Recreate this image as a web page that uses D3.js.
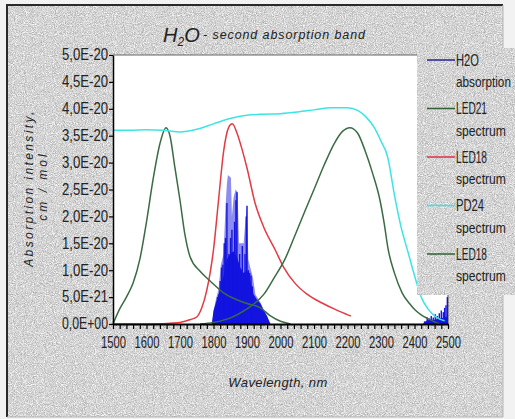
<!DOCTYPE html>
<html>
<head>
<meta charset="utf-8">
<script src="https://cdn.jsdelivr.net/npm/d3@7"></script>
<style>
  html, body { margin: 0; padding: 0; background: #f2f2f2; }
  svg { display: block; }
  .narrow { font-family: "Liberation Sans Narrow", "Arial Narrow", "Liberation Sans", Arial, sans-serif; }
  .sans { font-family: "Liberation Sans", Arial, sans-serif; }
</style>
</head>
<body>
<script>
// ---- data (absorption / spectral intensity in units of 1e-20) ----
const xTickValues = [1500, 1600, 1700, 1800, 1900, 2000, 2100, 2200, 2300, 2400, 2500];
const yTickValues = [0, 0.5, 1, 1.5, 2, 2.5, 3, 3.5, 4, 4.5, 5];
const yTickLabels = ["0,0E+00", "5,0E-21", "1,0E-20", "1,5E-20", "2,0E-20", "2,5E-20",
                     "3,0E-20", "3,5E-20", "4,0E-20", "4,5E-20", "5,0E-20"];

const legendNames = ["H2O", "LED21", "LED18", "PD24", "LED18"];
const legendSub   = ["absorption", "spectrum", "spectrum", "spectrum", "spectrum"];

// PD24 photodiode spectrum
const pd24Wl  = [1500, 1550, 1600, 1650, 1700, 1750, 1800, 1850, 1900, 1950, 2000, 2050, 2100, 2150, 2200,
                 2230, 2255, 2280, 2300, 2320, 2340, 2360, 2380, 2400, 2420, 2440, 2460, 2475, 2490];
const pd24Val = [3.60, 3.60, 3.61, 3.60, 3.57, 3.62, 3.72, 3.82, 3.88, 3.90, 3.91, 3.94, 3.98, 4.02, 4.02,
                 3.97, 3.85, 3.65, 3.40, 3.10, 2.40, 1.80, 1.35, 0.90, 0.50, 0.28, 0.15, 0.09, 0.06];

// LED (1.65 um) spectrum
const led16Wl  = [1500, 1520, 1540, 1560, 1580, 1600, 1620, 1640, 1658, 1670, 1685, 1700, 1715, 1730,
                  1760, 1790, 1830, 1870, 1900, 1940, 1970, 2000, 2030];
const led16Val = [0.00, 0.28, 0.50, 0.76, 1.20, 1.90, 2.70, 3.35, 3.65, 3.50, 2.90, 2.30, 1.65, 1.25,
                  0.98, 0.80, 0.58, 0.45, 0.38, 0.30, 0.15, 0.05, 0.00];

// LED21 spectrum
const led21Wl  = [1760, 1800, 1840, 1870, 1900, 1924, 1950, 1980, 2013, 2040, 2073, 2100, 2130, 2160,
                  2185, 2207, 2230, 2252, 2275, 2297, 2310, 2321, 2340, 2363, 2385, 2402, 2420, 2440, 2460, 2475];
const led21Val = [0.00, 0.03, 0.09, 0.17, 0.28, 0.39, 0.55, 0.85, 1.20, 1.60, 2.10, 2.50, 2.95, 3.35,
                  3.58, 3.65, 3.55, 3.23, 2.80, 2.30, 1.85, 1.40, 0.95, 0.58, 0.38, 0.26, 0.17, 0.10, 0.04, 0.00];

// LED18 spectrum
const led18Wl  = [1500, 1600, 1700, 1730, 1750, 1765, 1780, 1790, 1800, 1815, 1830, 1845, 1856, 1870,
                  1885, 1900, 1924, 1950, 1984, 2010, 2043, 2080, 2124, 2160, 2201, 2210];
const led18Val = [0.00, 0.00, 0.03, 0.08, 0.13, 0.30, 0.63, 0.95, 1.38, 2.30, 3.20, 3.65, 3.72, 3.55,
                  3.25, 2.90, 2.25, 1.80, 1.38, 1.05, 0.76, 0.55, 0.39, 0.28, 0.17, 0.15];

// H2O absorption: upper envelope of the line cluster
const h2oEnvWl  = [1795, 1805, 1815, 1822, 1830, 1836, 1840, 1843, 1852, 1855, 1860, 1866, 1872, 1876,
                   1890, 1895, 1900, 1904, 1912, 1918, 1925, 1940, 1955, 1968];
const h2oEnvVal = [0.00, 0.40, 0.65, 1.10, 1.30, 2.20, 2.60, 2.77, 2.72, 2.00, 2.35, 2.50, 2.45, 1.50,
                   1.50, 1.90, 2.20, 1.20, 1.00, 0.85, 0.55, 0.40, 0.20, 0.00];
// H2O absorption: individual strong lines
const h2oLineWl  = [1812, 1816, 1820, 1824, 1828, 1832, 1836, 1840, 1846, 1851, 1855, 1859, 1863, 1867,
                    1870, 1874, 1878, 1882, 1886, 1890, 1894, 1898, 1900, 1904, 1908, 1912, 1916, 1920,
                    2430, 2438, 2444, 2450, 2456, 2462, 2468, 2474, 2480, 2486, 2490, 2494, 2498];
const h2oLineVal = [0.50, 0.55, 0.80, 1.05, 1.10, 1.50, 1.60, 2.25, 1.30, 1.60, 1.75, 1.30, 1.90, 2.30,
                    2.45, 1.10, 1.30, 1.00, 1.45, 0.90, 1.30, 2.00, 2.20, 1.00, 0.95, 0.90, 0.70, 0.50,
                    0.05, 0.12, 0.10, 0.15, 0.12, 0.18, 0.15, 0.20, 0.25, 0.22, 0.30, 0.35, 0.50];
// H2O absorption: dense weak-line background
const h2oBaseWl  = [1795, 1800, 1810, 1820, 1830, 1840, 1850, 1860, 1870, 1880, 1890, 1900, 1910, 1920,
                    1930, 1940, 1950, 1960, 1970];
const h2oBaseVal = [0.00, 0.25, 0.45, 0.65, 0.90, 1.20, 1.30, 1.35, 1.25, 1.05, 0.95, 1.00, 0.80, 0.55,
                    0.45, 0.38, 0.25, 0.15, 0.00];
const h2oTailWl  = [2425, 2435, 2445, 2460, 2475, 2490, 2500];
const h2oTailVal = [0.00, 0.06, 0.08, 0.08, 0.10, 0.12, 0.15];

// ---- colours ----
const cBlue = "#1414e0", cLav = "#8c8cf2", cGreen = "#3b6b44", cRed = "#e23b45", cCyan = "#3ee4e4";
const legendColors = ["#25258f", "#2f5f35", "#e0304a", "#3ee4e4", "#2f5f35"];
const legendNameWidth = [23, 31, 31, 28, 31];
const legendSubWidth  = [55, 50, 50, 50, 50];

const W = 515, H = 419;
const svg = d3.select("body").append("svg").attr("width", W).attr("height", H);

// squeeze a text horizontally to a given width (condensed look), keeping its anchor x
function condense(textNode, width, anchorX) {
  const len = textNode.getComputedTextLength();
  const s = Math.min(1, width / len);
  d3.select(textNode).attr("transform", `scale(${s},1)`).attr("x", anchorX / s);
}

// granite-style textured fill
const defs = svg.append("defs");
const f = defs.append("filter").attr("id", "granite")
  .attr("x", 0).attr("y", 0).attr("width", 1).attr("height", 1)
  .attr("color-interpolation-filters", "sRGB");
f.append("feTurbulence").attr("type", "fractalNoise").attr("baseFrequency", 1.1)
  .attr("numOctaves", 2).attr("seed", 11).attr("result", "n");
f.append("feColorMatrix").attr("in", "n").attr("type", "matrix")
  .attr("values", "0.5 0 0 0 0.58  0.5 0 0 0 0.58  0.5 0 0 0 0.58  0 0 0 0 1");

// outer frame with texture
svg.append("rect").attr("x", 7).attr("y", 5).attr("width", 496).attr("height", 412)
  .attr("fill", "#d6d6d6").attr("filter", "url(#granite)");
svg.append("path").attr("d", "M7,417 V5 H503").attr("fill", "none").attr("stroke", "#2a2a2a").attr("stroke-width", 2);
svg.append("path").attr("d", "M503,5 V417 H7").attr("fill", "none").attr("stroke", "#b5b5b5").attr("stroke-width", 1);

// ---- scales ----
const x = d3.scaleLinear().domain([1500, 2500]).range([113, 448]);
const y = d3.scaleLinear().domain([0, 5]).range([324, 55]);

// plot area
svg.append("rect").attr("x", x(1500)).attr("y", y(5)).attr("width", x(2500) - x(1500)).attr("height", y(0) - y(5))
  .attr("fill", "#ffffff");
svg.append("path").attr("d", `M${x(1500)},${y(5)} H${x(2500)} V${y(0)}`)
  .attr("fill", "none").attr("stroke", "#666").attr("stroke-width", 1.2);

const g = svg.append("g");

// H2O absorption
const zip = (a, b) => a.map((d, i) => [d, b[i]]);
const area = d3.area().x(d => x(d[0])).y0(y(0)).y1(d => y(d[1]));
g.append("path").datum(zip(h2oEnvWl, h2oEnvVal)).attr("d", area).attr("fill", cLav);
g.append("path").datum(zip(h2oBaseWl, h2oBaseVal)).attr("d", area).attr("fill", cBlue);
g.append("path").datum(zip(h2oTailWl, h2oTailVal)).attr("d", area).attr("fill", cBlue);
g.selectAll("line.h2o").data(zip(h2oLineWl, h2oLineVal)).join("line").attr("class", "h2o")
  .attr("x1", d => x(d[0])).attr("x2", d => x(d[0]))
  .attr("y1", y(0)).attr("y2", d => y(d[1]))
  .attr("stroke", cBlue).attr("stroke-width", 1.4);

// spectra
const line = d3.line().x(d => x(d[0])).y(d => y(d[1])).curve(d3.curveMonotoneX);
const curves = [
  [led18Wl, led18Val, cRed],
  [led16Wl, led16Val, cGreen],
  [led21Wl, led21Val, cGreen],
  [pd24Wl, pd24Val, cCyan]
];
curves.forEach(([wl, v, c]) => {
  g.append("path").datum(zip(wl, v)).attr("d", line)
    .attr("fill", "none").attr("stroke", c).attr("stroke-width", 1.5);
});

// ---- axes ----
const minorX = d3.range(1500, 2501, 20);
const xAxis = svg.append("g").attr("transform", `translate(0,${y(0)})`)
  .call(d3.axisBottom(x).tickValues(minorX).tickSize(5).tickSizeOuter(0)
    .tickFormat(d => xTickValues.includes(d) ? String(d) : ""));
xAxis.select(".domain").attr("stroke", "#000").attr("stroke-width", 2);
xAxis.selectAll(".tick line").attr("stroke", "#000").attr("stroke-width", 1.2);
xAxis.selectAll(".tick text").filter(d => !xTickValues.includes(d)).remove();
xAxis.selectAll(".tick text").attr("class", "narrow").attr("font-size", 16).attr("fill", "#222")
  .attr("dy", "1.0em")
  .each(function () { condense(this, 25, 0); });

const yAxis = svg.append("g").attr("transform", `translate(${x(1500)},0)`)
  .call(d3.axisLeft(y).tickValues(yTickValues).tickSize(4).tickSizeOuter(0)
    .tickFormat((d, i) => yTickLabels[i]));
yAxis.select(".domain").attr("stroke", "#000").attr("stroke-width", 1.5);
yAxis.selectAll(".tick line").attr("stroke", "#000").attr("stroke-width", 1.2);
yAxis.selectAll(".tick text").attr("class", "narrow").attr("font-size", 16).attr("fill", "#222")
  .attr("dy", "0.3em")
  .each(function () { condense(this, 46, -5); });

// ---- title ----
const title = svg.append("text").attr("class", "sans").attr("x", 163).attr("y", 42).attr("fill", "#222")
  .attr("font-style", "italic");
title.append("tspan").attr("font-size", 20).text("H");
title.append("tspan").attr("font-size", 12).attr("dy", 4).text("2");
title.append("tspan").attr("font-size", 20).attr("dy", -4).text("O");
svg.append("text").attr("class", "sans").attr("x", 203).attr("y", 39).attr("fill", "#222")
  .attr("font-style", "italic").attr("font-size", 12.5)
  .attr("textLength", 162).attr("lengthAdjust", "spacing")
  .text("- second absorption band");

// ---- axis titles ----
svg.append("text").attr("class", "sans").attr("transform", "translate(33,188) rotate(-90)")
  .attr("text-anchor", "middle").attr("font-style", "italic").attr("font-size", 12)
  .attr("letter-spacing", 2.4).attr("fill", "#222").text("Absorption intensity,");
svg.append("text").attr("class", "sans").attr("transform", "translate(47,186) rotate(-90)")
  .attr("text-anchor", "middle").attr("font-style", "italic").attr("font-size", 12)
  .attr("letter-spacing", 3).attr("fill", "#222").text("cm / mol");
svg.append("text").attr("class", "sans").attr("x", 278).attr("y", 387)
  .attr("text-anchor", "middle").attr("font-style", "italic").attr("font-size", 13)
  .attr("letter-spacing", 0.4).attr("fill", "#222").text("Wavelength, nm");

// ---- legend ----
svg.append("rect").attr("x", 417).attr("y", 48).attr("width", 98).attr("height", 247)
  .attr("fill", "#d6d6d6").attr("filter", "url(#granite)");
const leg = svg.append("g");
legendNames.forEach((name, i) => {
  const yy = 60 + i * 48.5;
  leg.append("line").attr("x1", 427).attr("x2", 455).attr("y1", yy).attr("y2", yy)
    .attr("stroke", legendColors[i]).attr("stroke-width", 1.5);
  leg.append("text").attr("class", "narrow").attr("y", yy).attr("dy", "0.35em")
    .attr("font-size", 16).attr("fill", "#222").text(name)
    .each(function () { condense(this, legendNameWidth[i], 456); });
  leg.append("text").attr("class", "narrow").attr("y", yy + 22).attr("dy", "0.35em")
    .attr("font-size", 15).attr("fill", "#222").text(legendSub[i])
    .each(function () { condense(this, legendSubWidth[i], 456); });
});
</script>
</body>
</html>
